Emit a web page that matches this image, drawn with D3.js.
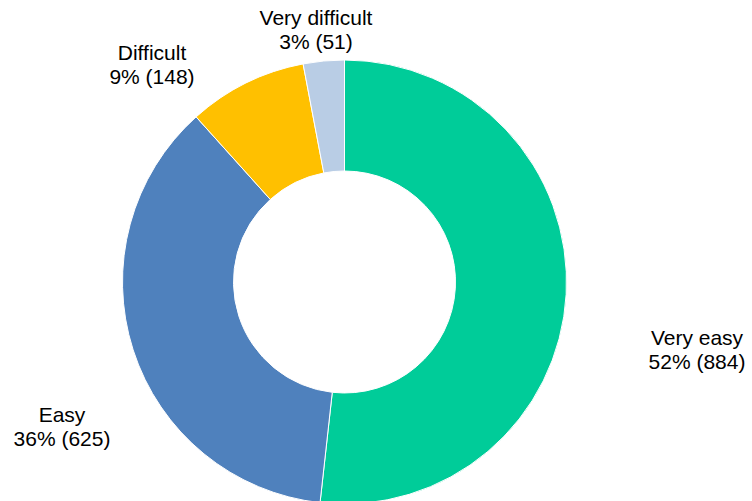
<!DOCTYPE html>
<html>
<head>
<meta charset="utf-8">
<script src="https://cdn.jsdelivr.net/npm/d3@7"></script>
<style>
  body { margin: 0; background: #fff; }
  svg text { font-family: Arial, "Liberation Sans", sans-serif; font-size: 21px; fill: #000; }
</style>
</head>
<body>
<div id="chart"></div>
<script>
var categories = ['Very easy', 'Easy', 'Difficult', 'Very difficult'];
var counts = [884, 625, 148, 51];
var pctLabels = ['52%', '36%', '9%', '3%'];
var colors = ['#00cc99', '#4f81bd', '#ffc000', '#b9cde5'];

var width = 752, height = 501;
var cx = 344.5, cy = 282, outerR = 222, innerR = 111;

// where each label block sits (centre x, first baseline y)
var labelPos = {
  'Very easy': [697, 345],
  'Easy': [62, 422],
  'Difficult': [152, 60],
  'Very difficult': [316, 25]
};

var data = categories.map(function(c, i) {
  return { name: c, value: counts[i], pct: pctLabels[i], color: colors[i] };
});

var svg = d3.select('#chart').append('svg')
  .attr('width', width).attr('height', height);

var g = svg.append('g').attr('transform', 'translate(' + cx + ',' + cy + ')');

var pie = d3.pie().sort(null).value(function(d) { return d.value; });
var arc = d3.arc().innerRadius(innerR).outerRadius(outerR);

g.selectAll('path')
  .data(pie(data))
  .enter().append('path')
  .attr('d', arc)
  .attr('fill', function(d) { return d.data.color; })
  .attr('stroke', '#fff')
  .attr('stroke-width', 1);

var labels = svg.selectAll('text.lbl')
  .data(data)
  .enter().append('text')
  .attr('class', 'lbl')
  .attr('text-anchor', 'middle');

labels.append('tspan')
  .attr('x', function(d) { return labelPos[d.name][0]; })
  .attr('y', function(d) { return labelPos[d.name][1]; })
  .text(function(d) { return d.name; });

labels.append('tspan')
  .attr('x', function(d) { return labelPos[d.name][0]; })
  .attr('y', function(d) { return labelPos[d.name][1] + 24; })
  .text(function(d) { return d.pct + ' (' + d.value + ')'; });
</script>
</body>
</html>
